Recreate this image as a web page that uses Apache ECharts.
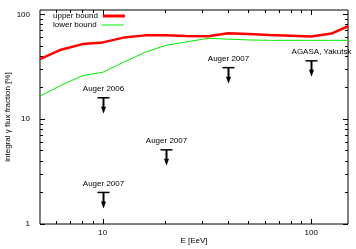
<!DOCTYPE html>
<html><head><meta charset="utf-8">
<script src="https://cdn.jsdelivr.net/npm/echarts@6/dist/echarts.min.js"></script>
<style>html,body{margin:0;padding:0;background:#fff}#c{width:356px;height:249px}</style>
</head><body><div id="c"></div>
<script>
// ---- data ----
const upperE = [5, 6.3, 8, 10, 12.6, 16, 20, 25, 32, 40, 50, 63, 80, 100, 125, 150];
const upperV = [37.3, 46, 52, 54, 60, 63, 63, 62.3, 61.7, 66, 65, 63.5, 62.5, 61.5, 65.5, 77];
const lowerE = [5, 6.3, 8, 10, 12.6, 16, 20, 25, 32, 40, 50, 63, 80, 100, 125, 150];
const lowerV = [16.6, 21, 26, 28, 35, 43.5, 50.5, 54.5, 59, 58, 57, 56.5, 56.5, 56.5, 56.5, 56.5];
const limitE = [10, 10, 20, 40, 100];
const limitV = [16, 2.0, 5.1, 31, 36];
const limitLabels = ['Auger 2006', 'Auger 2007', 'Auger 2007', 'Auger 2007', 'AGASA, Yakutsk'];
const xMajor = [10, 100];
const xMinor = [6, 7, 8, 9, 20, 30, 40, 50, 60, 70, 80, 90];
const yMajor = [1, 10, 100];
const yMinor = [2, 3, 4, 5, 6, 7, 8, 9, 20, 30, 40, 50, 60, 70, 80, 90];

// label horizontal nudges (style only)
const labelShift = {'AGASA, Yakutsk': 10};

const FONT = 'Liberation Sans, Arial, sans-serif';
const X_MIN = 5, X_MAX = 150, Y_MIN = 1, Y_MAX = 110;

function xAx(pos, vals, len, labels, extra) {
  return Object.assign({
    type: 'log', logBase: 10, min: X_MIN, max: X_MAX, position: pos,
    axisLine: {show: false},
    axisTick: {show: true, inside: true, length: len, customValues: vals, lineStyle: {color: '#000', width: 1}},
    axisLabel: labels ? {customValues: vals, fontSize: 8, color: '#000', fontFamily: FONT, margin: 5} : {show: false},
    splitLine: {show: false}, minorTick: {show: false}
  }, extra || {});
}
function yAx(pos, vals, len, labels, extra) {
  return Object.assign({
    type: 'log', logBase: 10, min: Y_MIN, max: Y_MAX, position: pos,
    axisLine: {show: false},
    axisTick: {show: true, inside: true, length: len, customValues: vals, lineStyle: {color: '#000', width: 1}},
    axisLabel: labels ? {customValues: vals, fontSize: 8, color: '#000', fontFamily: FONT, margin: 10} : {show: false},
    splitLine: {show: false}, minorTick: {show: false}
  }, extra || {});
}

const chart = echarts.init(document.getElementById('c'), null, {renderer: 'canvas'});
chart.setOption({
  animation: false,
  backgroundColor: '#fff',
  textStyle: {fontFamily: FONT},
  grid: {left: 40, right: 8, top: 10, bottom: 25, outerBoundsMode: 'none', containLabel: false,
    show: true, borderColor: '#000', borderWidth: 1, backgroundColor: 'transparent'},
  legend: [
    {data: [{name: 'upper bound', icon: 'rect'}], align: 'right', left: 53, top: 12, padding: 0,
     itemWidth: 22, itemHeight: 3, textStyle: {fontSize: 8, color: '#000', fontFamily: FONT}},
    {data: [{name: 'lower bound', icon: 'rect', itemStyle: {color: '#00ee00'}}], align: 'right', left: 53, top: 21, padding: 0,
     itemWidth: 22, itemHeight: 1, textStyle: {fontSize: 8, color: '#000', fontFamily: FONT}}
  ],
  xAxis: [
    xAx('bottom', xMajor, 5, true, {name: 'E [EeV]', nameLocation: 'middle', nameGap: 13, nameMoveOverlap: false,
      nameTextStyle: {fontSize: 8, color: '#000', fontFamily: FONT}}),
    xAx('bottom', xMinor, 3, false),
    xAx('top', xMajor, 5, false),
    xAx('top', xMinor, 3, false)
  ],
  yAxis: [
    yAx('left', yMajor, 5, true, {name: 'integral γ flux fraction [%]', nameLocation: 'middle', nameGap: 28, nameMoveOverlap: false,
      nameTextStyle: {fontSize: 8, color: '#000', fontFamily: FONT}}),
    yAx('left', yMinor, 3, false),
    yAx('right', yMajor, 5, false),
    yAx('right', yMinor, 3, false)
  ],
  series: [
    {name: 'upper bound', type: 'line', xAxisIndex: 0, yAxisIndex: 0, showSymbol: false, symbol: 'none',
     data: upperE.map((e, i) => [e, upperV[i]]),
     lineStyle: {color: '#ff0000', width: 2.5}, itemStyle: {color: '#ff0000'}, z: 3},
    {name: 'lower bound', type: 'line', xAxisIndex: 0, yAxisIndex: 0, showSymbol: false, symbol: 'none',
     data: lowerE.map((e, i) => [e, lowerV[i]]),
     lineStyle: {color: '#00ee00', width: 1}, itemStyle: {color: '#00ee00'}, z: 2},
    {name: 'limits', type: 'custom', xAxisIndex: 0, yAxisIndex: 0, clip: false,
     data: limitE.map((e, i) => [e, limitV[i], i]),
     renderItem: function (params, api) {
       const p = api.coord([api.value(0), api.value(1)]);
       const lab = limitLabels[api.value(2)];
       const dx = labelShift[lab] || 0;
       const x = Math.round(p[0]) + 0.5, y = p[1];
       return {type: 'group', children: [
         {type: 'line', shape: {x1: x - 6, y1: y, x2: x + 6, y2: y}, style: {stroke: '#000', lineWidth: 1.5}},
         {type: 'line', shape: {x1: x, y1: y, x2: x, y2: y + 10}, style: {stroke: '#000', lineWidth: 2}},
         {type: 'polygon', shape: {points: [[x - 2.5, y + 9], [x + 2.5, y + 9], [x, y + 16]]}, style: {fill: '#000'}},
         {type: 'text', x: x + dx, y: y - 5, style: {text: lab, fontSize: 8, fontFamily: FONT, fill: '#000',
           align: 'center', verticalAlign: 'bottom'}}
       ]};
     }}
  ]
});
</script></body></html>
